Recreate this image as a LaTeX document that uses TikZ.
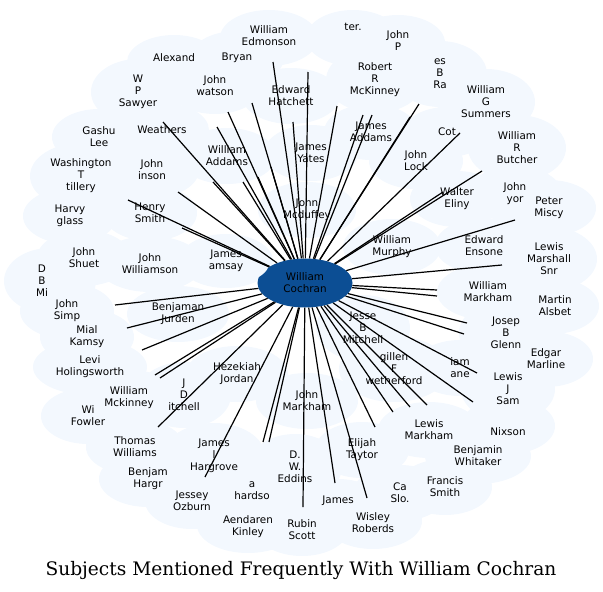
\documentclass[tikz,border=0pt]{standalone}
\usepackage{fontspec}
\setmainfont{DejaVu Sans}
\newfontfamily\titlefont{DejaVu Serif}
\usetikzlibrary{shapes.geometric}
\definecolor{cloudfill}{RGB}{243,248,254}
\definecolor{hubfill}{RGB}{12,78,148}
\begin{document}
\begin{tikzpicture}[x=1pt,y=-1pt,
  lbl/.style={align=center,font=\fontsize{10.4}{12}\selectfont,inner sep=0pt,text=black},
  edge/.style={draw=black,line width=1.2pt},
  hubnode/.style={ellipse,fill=hubfill,minimum width=95pt,minimum height=49pt,inner sep=0pt,align=center,font=\fontsize{10.4}{12}\selectfont,text=black},
  titlelbl/.style={font=\titlefont\fontsize{18.6}{22}\selectfont,inner sep=0pt}]
\useasboundingbox (0,0) rectangle (603,592);
% cloud of node backgrounds
\foreach \x/\y/\rx/\ry in {
 174/62/44/24, 138/92/44/30, 215/86/44/25, 237/58/44/24, 269/38/46/25,
 353/38/44/25, 398/43/44/25, 375/80/46/30, 440/74/44/30, 486/102/46/30,
 291/96/46/25, 371/132/44/25, 311/153/44/25, 227/156/46/25, 162/130/44/24,
 99/137/44/25, 81/176/48/30, 152/170/44/25, 447/132/40/22, 517/148/46/30,
 416/161/44/25, 457/199/44/25, 515/194/44/25, 549/208/44/25, 307/210/46/25,
 150/213/44/25, 70/216/44/25, 392/247/46/25, 484/246/46/25, 546/259/48/30,
 84/258/44/25, 150/264/50/25, 226/261/44/24, 50/281/43/30, 67/311/44/25,
 178/314/48/25, 488/292/48/25, 552/306/44/25, 506/333/44/30, 363/328/44/30,
 87/337/44/25, 90/367/54/25, 546/359/44/25, 394/369/52/30, 460/368/44/25,
 237/374/48/25, 184/395/44/30, 129/398/48/25, 88/416/44/25, 307/401/48/25,
 135/447/46/25, 214/456/48/30, 148/479/46/25, 192/501/44/25, 295/467/44/30,
 362/450/44/25, 252/491/48/25, 248/525/48/25, 302/528/44/25, 338/507/44/25,
 373/521/46/25, 400/493/44/25, 445/487/44/25, 429/430/48/25, 478/456/50/25,
 508/426/44/25, 508/389/44/30}
 \fill[cloudfill] (\x,\y) ellipse [x radius=\rx pt+3pt, y radius=\ry pt+3pt];
% central node
\node[hubnode] (ctr) at (305,283) {William\\Cochran};
\fill[cloudfill] (226,261) ellipse [x radius=44pt, y radius=24pt];
% connectors
\foreach \i/\x/\y in {
 1/273/62, 2/308/72, 3/337/106, 4/363/115, 5/372/115, 6/410/117, 7/419/104,
 8/460/133, 9/482/171, 10/443/192, 11/515/220, 12/502/265, 13/437/290,
 14/437/296, 15/467/323, 16/464/334, 17/477/373, 18/473/402, 19/427/405,
 20/410/407, 21/393/412, 22/375/427, 23/367/498, 24/335/483, 25/303/507,
 26/205/477, 27/158/427, 28/155/375, 29/160/378, 30/142/350, 31/127/328,
 32/115/305, 33/182/228, 34/128/200, 35/178/192, 36/213/182, 37/243/182,
 38/258/177, 39/271/167, 40/163/122, 41/217/127, 42/228/112, 43/252/103,
 44/293/122, 45/263/442, 46/269/442}
 {\coordinate (e\i) at (\x,\y); \draw[edge] (ctr) -- (e\i);}
% labels
\node[lbl] (n01) at (174,58) {Alexand};
\node[lbl] (n02) at (138,92) {W\\P\\Sawyer};
\node[lbl] (n03) at (215,86) {John\\watson};
\node[lbl] (n04) at (237,58) {Bryan};
\node[lbl] (n05) at (269,36) {William\\Edmonson};
\node[lbl] (n06) at (353,27) {ter.};
\node[lbl] (n07) at (398,41) {John\\P};
\node[lbl] (n08) at (375,80) {Robert\\R\\McKinney};
\node[lbl] (n09) at (440,74) {es\\B\\Ra};
\node[lbl] (n10) at (486,102) {William\\G\\Summers};
\node[lbl] (n11) at (291,96) {Edward\\Hatchett};
\node[lbl] (n12) at (371,132) {James\\Addams};
\node[lbl] (n13) at (311,153) {James\\Yates};
\node[lbl] (n14) at (227,156) {William\\Addams};
\node[lbl] (n15) at (162,130) {Weathers};
\node[lbl] (n16) at (99,137) {Gashu\\Lee};
\node[lbl] (n17) at (81,176) {Washington\\T\\tillery};
\node[lbl] (n18) at (152,170) {John\\inson};
\node[lbl] (n19) at (447,132) {Cot};
\node[lbl] (n20) at (517,148) {William\\R\\Butcher};
\node[lbl] (n21) at (416,161) {John\\Lock};
\node[lbl] (n22) at (457,199) {Walter\\Eliny};
\node[lbl] (n23) at (515,194) {John\\yor};
\node[lbl] (n24) at (549,208) {Peter\\Miscy};
\node[lbl] (n25) at (307,210) {John\\Mcduffey};
\node[lbl] (n26) at (150,213) {Henry\\Smith};
\node[lbl] (n27) at (70,216) {Harvy\\glass};
\node[lbl] (n28) at (392,247) {William\\Murphy};
\node[lbl] (n29) at (484,246) {Edward\\Ensone};
\node[lbl] (n30) at (549,259) {Lewis\\Marshall\\Snr};
\node[lbl] (n31) at (84,258) {John\\Shuet};
\node[lbl] (n32) at (150,264) {John\\Williamson};
\node[lbl] (n33) at (226,261) {James\\amsay};
\node[lbl] (n34) at (42,281) {D\\B\\Mi};
\node[lbl] (n35) at (67,311) {John\\Simp};
\node[lbl] (n36) at (178,314) {Benjaman\\Jurden};
\node[lbl] (n37) at (488,292) {William\\Markham};
\node[lbl] (n38) at (555,306) {Martin\\Alsbet};
\node[lbl] (n39) at (506,333) {Josep\\B\\Glenn};
\node[lbl] (n40) at (363,328) {Jesse\\B\\Mitchell};
\node[lbl] (n41) at (87,337) {Mial\\Kamsy};
\node[lbl] (n42) at (90,367) {Levi\\Holingsworth};
\node[lbl] (n43) at (546,359) {Edgar\\Marline};
\node[lbl] (n44) at (394,369) {gillen\\F\\wetherford};
\node[lbl] (n45) at (460,368) {iam\\ane};
\node[lbl] (n46) at (237,374) {Hezekiah\\Jordan};
\node[lbl] (n47) at (184,395) {J\\D\\itchell};
\node[lbl] (n48) at (129,398) {William\\Mckinney};
\node[lbl] (n49) at (88,416) {Wi\\Fowler};
\node[lbl] (n50) at (307,401) {John\\Markham};
\node[lbl] (n51) at (135,447) {Thomas\\Williams};
\node[lbl] (n52) at (214,456) {James\\l\\Hargrove};
\node[lbl] (n53) at (148,479) {Benjam\\Hargr};
\node[lbl] (n54) at (192,501) {Jessey\\Ozburn};
\node[lbl] (n55) at (295,467) {D.\\W.\\Eddins};
\node[lbl] (n56) at (362,450) {Elijah\\Taytor};
\node[lbl] (n57) at (252,491) {a\\hardso};
\node[lbl] (n58) at (248,527) {Aendaren\\Kinley};
\node[lbl] (n59) at (302,530) {Rubin\\Scott};
\node[lbl] (n60) at (338,501) {James};
\node[lbl] (n61) at (373,523) {Wisley\\Roberds};
\node[lbl] (n62) at (400,493) {Ca\\Slo.};
\node[lbl] (n63) at (445,487) {Francis\\Smith};
\node[lbl] (n64) at (429,430) {Lewis\\Markham};
\node[lbl] (n65) at (478,456) {Benjamin\\Whitaker};
\node[lbl] (n66) at (508,432) {Nixson};
\node[lbl] (n67) at (508,389) {Lewis\\J\\Sam};
% title
\node[titlelbl] (title) at (301,570) {Subjects Mentioned Frequently With William Cochran};
\end{tikzpicture}
\end{document}
